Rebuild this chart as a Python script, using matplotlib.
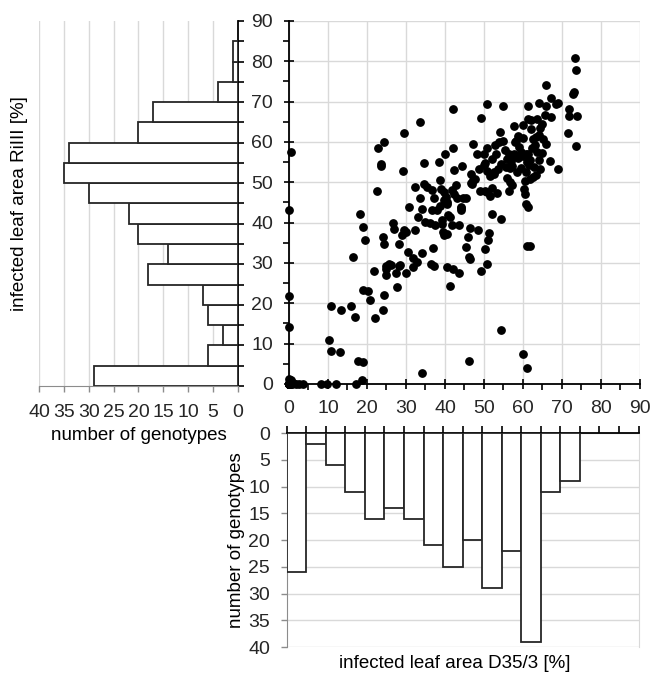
import matplotlib
matplotlib.use("Agg")
import matplotlib.pyplot as plt
from matplotlib.ticker import MultipleLocator

plt.rcParams['font.family'] = ['Liberation Sans', 'DejaVu Sans']
plt.rcParams['font.size'] = 13.5
plt.rcParams['xtick.labelsize'] = 14
plt.rcParams['ytick.labelsize'] = 14
plt.rcParams['text.color'] = '#262626'
plt.rcParams['xtick.color'] = '#262626'
plt.rcParams['ytick.color'] = '#262626'

# histogram of infected leaf area RiIII (bins of 5 %)
rilll_edges = [0, 5, 10, 15, 20, 25, 30, 35, 40, 45, 50, 55, 60, 65, 70, 75, 80]
rilll_counts = [29, 6, 3, 6, 7, 18, 14, 20, 22, 30, 35, 34, 20, 17, 4, 1, 1]

# histogram of infected leaf area D35/3 (bins of 5 %)
d35_edges = [0, 5, 10, 15, 20, 25, 30, 35, 40, 45, 50, 55, 60, 65, 70]
d35_counts = [26, 2, 6, 11, 16, 14, 16, 21, 25, 20, 29, 22, 39, 11, 9]

# per genotype values
d35 = [
    73.3, 73.6, 65.8, 73.2, 72.9, 67.3, 68.5, 69.1, 64.1, 65.8,
    61.2, 50.8, 54.9, 42.1, 71.7, 71.9, 73.8, 65.6, 67.2, 49.3,
    61.4, 62.0, 63.5, 64.8, 64.4, 60.1, 57.6, 33.5, 62.0, 29.6,
    71.6, 64.0, 63.4, 62.6, 60.1, 58.2, 65.1, 65.8, 24.3, 22.8,
    73.6, 0.5, 23.5, 23.7, 29.2, 22.5, 47.3, 42.1, 40.1, 34.7,
    38.5, 42.3, 44.4, 48.3, 50.1, 50.8, 52.7, 53.8, 54.8, 50.3,
    49.9, 48.6, 50.9, 52.6, 52.5, 46.8, 47.3, 47.8, 46.8, 54.4,
    55.6, 56.6, 57.1, 57.0, 57.3, 56.5, 57.6, 59.4, 57.9, 59.1,
    59.6, 60.7, 61.7, 61.1, 60.1, 61.4, 62.2, 63.5, 64.8, 64.0,
    66.9, 64.4, 63.3, 62.6, 61.8, 69.1, 60.5, 60.3, 60.6, 60.9,
    56.7, 57.1, 56.5, 53.4, 51.6, 50.2, 49.0, 50.9, 47.0, 34.7,
    35.5, 36.6, 37.2, 32.3, 33.7, 38.6, 39.1, 39.7, 40.2, 39.7,
    40.5, 41.9, 42.7, 42.2, 43.0, 44.5, 45.4, 44.0, 30.7, 34.2,
    36.6, 37.9, 0.1, 18.1, 19.1, 19.4, 16.5, 26.8, 27.0, 33.0,
    35.0, 36.2, 37.4, 32.3, 29.4, 30.1, 28.2, 24.1, 24.3, 30.4,
    31.7, 32.9, 31.7, 34.2, 37.0, 36.5, 37.2, 25.6, 24.9, 24.8,
    24.9, 26.2, 21.7, 27.5, 27.6, 28.1, 28.5, 29.9, 19.1, 20.3,
    20.8, 24.3, 24.0, 22.1, 10.9, 13.3, 15.8, 16.9, 10.3, 10.7,
    13.2, 17.7, 19.0, 18.7, 0.1, 0.1, 0.5, 0.1, 1.7, 3.5,
    8.1, 9.7, 12.1, 17.2, 34.1, 46.1, 54.3, 60.1, 61.1, 61.1,
    61.9, 61.4, 52.1, 54.4, 40.4, 40.8, 41.4, 39.2, 39.3, 39.4,
    39.8, 40.6, 41.7, 43.7, 44.0, 44.2, 46.5, 45.8, 45.5, 46.1,
    46.3, 48.4, 51.2, 51.0, 50.2, 50.7, 49.3, 40.6, 42.1, 43.6,
    41.2, 29.0, 38.8, 52.0, 51.5, 53.5, 52.0, 53.0, 54.2, 55.8,
    58.5, 56.0, 58.8, 55.5, 58.8, 60.8, 62.8, 61.5, 63.2, 0.0,
    0.0, 0.0, 0.0, 0.0, 0.0, 0.0, 0.0, 0.0, 0.0, 0.3,
    0.5, 1.0, 0.0, 2.5, 0.8, 0.2, 0.0,
]
rilll = [
    80.7, 77.8, 74.2, 72.3, 72.0, 70.8, 69.5, 69.6, 69.7, 68.9,
    68.8, 69.3, 68.8, 68.3, 68.1, 66.5, 66.5, 66.7, 66.3, 66.0,
    65.7, 65.5, 65.7, 64.4, 63.4, 64.3, 63.9, 64.9, 63.1, 62.3,
    62.3, 61.7, 61.2, 60.7, 60.9, 60.3, 60.7, 59.5, 60.1, 58.5,
    58.9, 57.4, 54.6, 54.1, 52.8, 47.9, 59.5, 58.6, 57.1, 54.7,
    55.0, 53.1, 54.0, 57.1, 56.9, 58.4, 59.3, 60.1, 60.3, 54.9,
    54.2, 53.4, 52.9, 52.6, 52.0, 52.1, 50.5, 50.9, 49.8, 54.5,
    53.9, 53.5, 54.0, 55.2, 56.2, 56.9, 57.1, 53.5, 60.0, 58.8,
    57.4, 56.9, 55.6, 55.1, 56.4, 57.1, 58.4, 57.6, 57.3, 55.6,
    55.4, 53.4, 51.7, 51.2, 50.8, 53.4, 50.4, 48.3, 47.1, 44.6,
    50.2, 49.3, 47.9, 47.3, 46.6, 47.9, 47.8, 47.5, 49.6, 49.5,
    48.8, 48.0, 46.2, 48.8, 46.2, 50.5, 48.4, 47.7, 46.4, 45.5,
    45.0, 48.0, 49.3, 47.0, 46.0, 46.0, 46.0, 43.8, 43.9, 43.3,
    43.1, 43.1, 43.1, 42.2, 38.9, 35.7, 31.5, 40.0, 38.5, 41.5,
    40.2, 40.0, 39.3, 38.2, 38.2, 37.7, 34.8, 36.5, 34.8, 32.7,
    31.3, 30.2, 28.9, 32.4, 33.6, 29.7, 29.3, 29.8, 29.3, 28.5,
    27.0, 29.5, 28.0, 27.6, 24.0, 29.3, 29.4, 27.5, 23.3, 23.1,
    20.8, 22.0, 18.4, 16.3, 19.3, 18.3, 19.3, 16.7, 10.9, 8.2,
    7.9, 5.8, 5.4, 1.0, 21.8, 14.1, 1.0, 0.0, 0.0, 0.0,
    0.0, 0.0, 0.0, 0.0, 2.6, 5.7, 13.5, 7.5, 3.9, 34.2,
    34.1, 43.9, 42.1, 41.0, 44.6, 42.0, 41.5, 40.7, 39.7, 37.6,
    37.0, 37.3, 39.4, 39.3, 43.6, 43.1, 38.7, 36.5, 33.9, 31.6,
    30.9, 38.2, 37.5, 35.7, 33.5, 29.7, 27.9, 28.9, 28.5, 27.4,
    24.4, 37.0, 44.2, 48.5, 51.5, 53.2, 55.8, 57.0, 62.5, 51.0,
    52.5, 55.8, 56.0, 58.0, 61.5, 52.6, 53.8, 54.3, 59.2, 0.0,
    0.0, 0.0, 0.0, 0.0, 0.0, 0.0, 0.0, 0.0, 0.0, 0.5,
    0.0, 0.3, 1.2, 0.0, 0.0, 0.4, 0.2,
]

grid_c = '#d9d9d9'
axis_gray = '#8c8c8c'
edge_c = '#262626'

fig = plt.figure(figsize=(6.7, 6.9), dpi=100)

# main scatter
ax = fig.add_axes([0.4313, 0.4435, 0.5239, 0.5261])
ax.scatter(d35, rilll, s=28, color='black', zorder=3, clip_on=False)
ax.set_xlim(0, 90)
ax.set_ylim(0, 90)
ax.xaxis.set_major_locator(MultipleLocator(10))
ax.yaxis.set_major_locator(MultipleLocator(10))
ax.xaxis.set_minor_locator(MultipleLocator(5))
ax.yaxis.set_minor_locator(MultipleLocator(5))
ax.grid(True, which='major', color=grid_c, linewidth=1.0)
ax.set_axisbelow(True)
for s in ['top', 'right']:
    ax.spines[s].set_visible(False)
for s in ['left', 'bottom']:
    ax.spines[s].set_color('black')
    ax.spines[s].set_linewidth(1.3)
ax.tick_params(which='major', direction='inout', length=7, width=1.2, color='black', pad=8)
ax.tick_params(which='minor', direction='out', length=4, width=1.2, color='black')

# left histogram (RiIII)
axl = fig.add_axes([0.0582, 0.4406, 0.297, 0.529])
axl.barh(rilll_edges, rilll_counts, height=5, align='edge', color='white',
         edgecolor=edge_c, linewidth=1.3, zorder=3)
axl.set_xlim(40, 0)
axl.set_ylim(0, 90)
axl.xaxis.set_major_locator(MultipleLocator(5))
axl.yaxis.set_major_locator(MultipleLocator(5))
axl.grid(True, axis='x', color=grid_c, linewidth=1.0)
axl.set_axisbelow(True)
axl.yaxis.tick_right()
axl.tick_params(axis='y', direction='out', length=4, width=1.2, color='black', labelright=False)
axl.tick_params(axis='x', direction='out', length=4, width=1.0, color=axis_gray, pad=9)
for s in ['top', 'left']:
    axl.spines[s].set_visible(False)
axl.spines['right'].set_color('black')
axl.spines['right'].set_linewidth(1.3)
axl.spines['bottom'].set_color(axis_gray)
axl.set_ylabel('infected leaf area RiIII [%]')
axl.yaxis.set_label_coords(-0.055, 0.5)
axl.set_xlabel('number of genotypes')
axl.xaxis.set_label_coords(0.5, -0.112)

# bottom histogram (D35/3)
axb = fig.add_axes([0.428, 0.0623, 0.525, 0.310])
axb.bar(d35_edges, d35_counts, width=5, align='edge', color='white',
        edgecolor=edge_c, linewidth=1.3, zorder=3)
axb.set_xlim(0, 90)
axb.set_ylim(40, 0)
axb.xaxis.set_major_locator(MultipleLocator(5))
axb.yaxis.set_major_locator(MultipleLocator(5))
axb.grid(True, axis='y', color=grid_c, linewidth=1.0)
axb.set_axisbelow(True)
axb.xaxis.tick_top()
axb.tick_params(axis='x', direction='out', length=5, width=1.2, color='black', labeltop=False)
axb.tick_params(axis='y', direction='out', length=4, width=1.0, color=axis_gray, pad=8)
axb.spines['bottom'].set_visible(False)
axb.spines['top'].set_color('black')
axb.spines['top'].set_linewidth(1.3)
axb.spines['left'].set_color(axis_gray)
axb.spines['right'].set_color(grid_c)
axb.set_ylabel('number of genotypes')
axb.yaxis.set_label_coords(-0.119, 0.5)
axb.set_xlabel('infected leaf area D35/3 [%]')
axb.xaxis.set_label_coords(0.477, -0.037)

fig.savefig('out.png', dpi=100)
